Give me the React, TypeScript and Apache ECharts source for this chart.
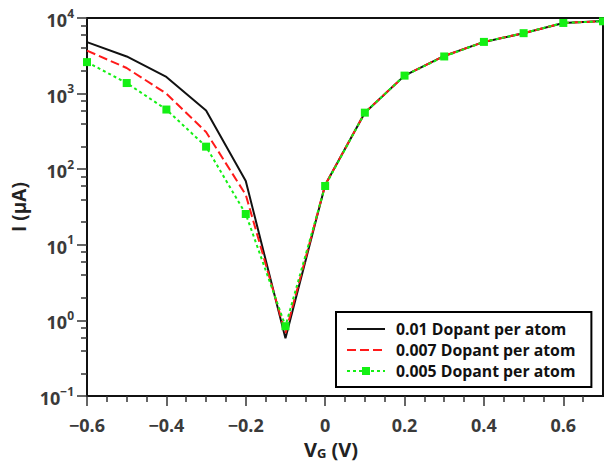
import React, { useEffect, useRef } from "react";
import * as echarts from "echarts";

const X_VALUES = [-0.6, -0.5, -0.4, -0.3, -0.2, -0.1, 0, 0.1, 0.2, 0.3, 0.4, 0.5, 0.6, 0.7];
const SERIES_NAMES = ["0.01 Dopant per atom", "0.007 Dopant per atom", "0.005 Dopant per atom"];
const I_001 = [4800, 3100, 1660, 600, 70, 0.58, 62, 560, 1730, 3150, 4830, 6300, 8600, 9100];
const I_0007 = [3700, 2180, 1000, 310, 46, 0.68, 62, 560, 1730, 3150, 4830, 6300, 8600, 9100];
const I_0005 = [2610, 1380, 616, 199, 25.6, 0.84, 60, 560, 1730, 3100, 4830, 6300, 8600, 9050];

const X_MAJOR_TICKS = [-0.6, -0.4, -0.2, 0, 0.2, 0.4, 0.6];
const X_MINOR_TICKS = [-0.55, -0.5, -0.45, -0.35, -0.3, -0.25, -0.15, -0.1, -0.05, 0.05, 0.1, 0.15, 0.25, 0.3, 0.35, 0.45, 0.5, 0.55, 0.65];
const Y_MIN = 0.1;
const Y_MAX = 10000;
const Y_MINOR_TICKS = [0.2, 0.4, 0.6, 0.8, 2, 4, 6, 8, 20, 40, 60, 80, 200, 400, 600, 800, 2000, 4000, 6000, 8000];

const FONT = "'Open Sans', 'Noto Sans', sans-serif";

const toPairs = (ys: number[]) => X_VALUES.map((x, i) => [x, ys[i]]);

export default function App() {
  const ref = useRef<HTMLDivElement>(null);
  useEffect(() => {
    if (!ref.current) return;
    const chart = echarts.init(ref.current, null, { renderer: "svg" });
    const supText = (e: number) => (e < 0 ? "\u2212" + Math.abs(e) : String(e));
    chart.setOption({
      animation: false,
      backgroundColor: "#fff",
      grid: {
        left: 87,
        right: 1,
        top: 18,
        bottom: 66,
        show: true,
        borderColor: "#111",
        borderWidth: 2,
      },
      legend: {
        left: 336,
        top: 312,
        orient: "vertical",
        selectedMode: false,
        backgroundColor: "#fff",
        borderColor: "#000",
        borderWidth: 2,
        borderRadius: 0,
        padding: [9, 16, 8, 10],
        itemWidth: 38,
        itemHeight: 10,
        itemGap: 5,
        data: [
          { name: SERIES_NAMES[0], itemStyle: { opacity: 0 } },
          { name: SERIES_NAMES[1], itemStyle: { opacity: 0 } },
          { name: SERIES_NAMES[2] },
        ],
        textStyle: {
          fontFamily: FONT,
          fontSize: 15.8,
          fontWeight: "bold",
          color: "#111",
          lineHeight: 15.5,
          padding: [0, 0, 0, 6],
        },
      },
      xAxis: [
        {
          type: "value",
          min: -0.6,
          max: 0.7,
          position: "bottom",
          axisLine: { show: true, onZero: false, lineStyle: { color: "#111", width: 2 } },
          axisTick: {
            show: true,
            customValues: X_MAJOR_TICKS,
            length: 10,
            lineStyle: { color: "#333", width: 1.5 },
          },
          axisLabel: {
            customValues: X_MAJOR_TICKS,
            margin: 20,
            fontFamily: FONT,
            fontSize: 18,
            fontWeight: "bold",
            color: "#3a3a3a",
            formatter: (v: number) => {
              const s = String(Math.round(v * 10) / 10);
              return s.replace("-", "\u2212");
            },
          },
          splitLine: { show: false },
          name: "{a|V}{s|G}{a| (V)}",
          nameLocation: "middle",
          nameGap: 42,
          nameTextStyle: {
            padding: [0, 28, 0, 0],
            rich: {
              a: { fontFamily: FONT, fontSize: 20, fontWeight: "bold", color: "#222" },
              s: { fontFamily: FONT, fontSize: 13, fontWeight: "bold", color: "#222", verticalAlign: "bottom", lineHeight: 20 },
            },
          },
        },
        {
          type: "value",
          min: -0.6,
          max: 0.7,
          position: "bottom",
          axisLine: { show: false, onZero: false },
          axisTick: {
            show: true,
            customValues: X_MINOR_TICKS,
            length: 6,
            lineStyle: { color: "#333", width: 1.5 },
          },
          axisLabel: { show: false },
          splitLine: { show: false },
        },
      ],
      yAxis: [
        {
          type: "log",
          logBase: 10,
          min: Y_MIN,
          max: Y_MAX,
          position: "left",
          axisLine: { show: true, onZero: false, lineStyle: { color: "#111", width: 2 } },
          axisTick: { show: true, length: 10, lineStyle: { color: "#333", width: 1.5 } },
          minorTick: { show: false },
          splitLine: { show: false },
          axisLabel: {
            margin: 13,
            formatter: (v: number) => {
              const e = Math.round(Math.log10(v));
              return "{b|10}{s|" + supText(e) + "}";
            },
            rich: {
              b: { fontFamily: FONT, fontSize: 18, fontWeight: "bold", color: "#3a3a3a", lineHeight: 22, verticalAlign: "bottom" },
              s: { fontFamily: FONT, fontSize: 12, fontWeight: "bold", color: "#3a3a3a", lineHeight: 14, verticalAlign: "top" },
            },
          },
          name: "I (\u03bcA)",
          nameLocation: "middle",
          nameGap: 54,
          nameRotate: 90,
          nameTextStyle: { fontFamily: FONT, fontSize: 19, fontWeight: "bold", color: "#222" },
        },
        {
          // decoration only: minor ticks at 2,4,6,8 per decade, placed on a log10 value scale
          type: "value",
          min: Math.log10(Y_MIN),
          max: Math.log10(Y_MAX),
          position: "left",
          axisLine: { show: false, onZero: false },
          axisTick: {
            show: true,
            customValues: Y_MINOR_TICKS.map((v) => Math.log10(v)),
            length: 6,
            lineStyle: { color: "#333", width: 1.5 },
          },
          axisLabel: { show: false },
          splitLine: { show: false },
        },
      ],
      series: [
        {
          name: SERIES_NAMES[0],
          type: "line",
          data: toPairs(I_001),
          showSymbol: false,
          symbol: "none",
          lineStyle: { color: "#111", width: 2, type: "solid" },
          itemStyle: { color: "#111" },
        },
        {
          name: SERIES_NAMES[1],
          type: "line",
          data: toPairs(I_0007),
          showSymbol: false,
          symbol: "none",
          lineStyle: { color: "#ff1a1a", width: 2, type: [9, 4] },
          itemStyle: { color: "#ff1a1a" },
        },
        {
          name: SERIES_NAMES[2],
          type: "line",
          data: toPairs(I_0005),
          symbol: "rect",
          symbolSize: 8,
          lineStyle: { color: "#14f014", width: 2, type: [3, 3] },
          itemStyle: { color: "#14f014" },
        },
      ],
    });
    return () => chart.dispose();
  }, []);
  return (
    <div
      ref={ref}
      style={{ position: "fixed", left: 0, top: 0, width: 604, height: 464 }}
    />
  );
}
